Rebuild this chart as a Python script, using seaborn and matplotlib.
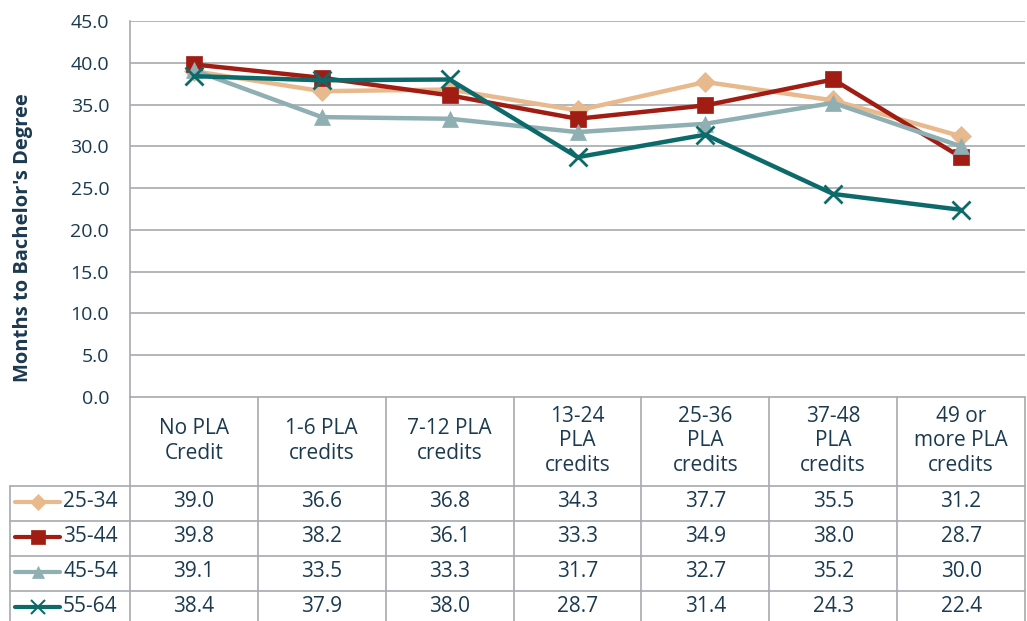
import numpy as np
import pandas as pd
import matplotlib
matplotlib.use("Agg")
import matplotlib.pyplot as plt
import seaborn as sns
from matplotlib.lines import Line2D

# ---------------- data ----------------
categories = ["No PLA\nCredit", "1-6 PLA\ncredits", "7-12 PLA\ncredits",
              "13-24\nPLA\ncredits", "25-36\nPLA\ncredits", "37-48\nPLA\ncredits",
              "49 or\nmore PLA\ncredits"]
ages = ["25-34", "35-44", "45-54", "55-64"]
v_25_34 = [39.0, 36.6, 36.8, 34.3, 37.7, 35.5, 31.2]
v_35_44 = [39.8, 38.2, 36.1, 33.3, 34.9, 38.0, 28.7]
v_45_54 = [39.1, 33.5, 33.3, 31.7, 32.7, 35.2, 30.0]
v_55_64 = [38.4, 37.9, 38.0, 28.7, 31.4, 24.3, 22.4]
yticks = [0, 5, 10, 15, 20, 25, 30, 35, 40, 45]

series = [v_25_34, v_35_44, v_45_54, v_55_64]
colors = ["#E8B98D", "#A11D14", "#8FAFB3", "#0D6A6A"]
markers = ["D", "s", "^", "x"]
msizes = [10, 12, 11, 13]

df = pd.DataFrame({
    "pos": np.tile(np.arange(len(categories)), len(ages)),
    "age": np.repeat(ages, len(categories)),
    "months": np.concatenate(series),
})

# ---------------- style ----------------
sns.set_style("white")
plt.rcParams["font.family"] = ["Open Sans", "DejaVu Sans"]
TXT = "#1B3A50"
GRID = "#A7AAAE"
FS = 15

W, H = 1027, 621
fig = plt.figure(figsize=(W / 100, H / 100), dpi=100)

# full-figure pixel axes for the data table
tab = fig.add_axes([0, 0, 1, 1], zorder=0)
tab.set_xlim(0, W)
tab.set_ylim(H, 0)
tab.axis("off")

x0, x1 = 130, 1025
y_top, y_bot = 21, 397
ax = fig.add_axes([x0 / W, 1 - y_bot / H, (x1 - x0) / W, (y_bot - y_top) / H], zorder=1)
ax.patch.set_alpha(0)

for age, col, mk, ms in zip(ages, colors, markers, msizes):
    sub = df[df["age"] == age]
    sns.lineplot(data=sub, x="pos", y="months", ax=ax, color=col, linewidth=3.2,
                 marker=mk, markersize=ms, markeredgecolor=col,
                 markeredgewidth=2 if mk == "x" else 0.5, legend=False)

ax.set_xlim(-0.5, len(categories) - 0.5)
ax.set_ylim(0, 45)
ax.set_yticks(yticks)
ax.set_yticklabels([f"{t:.1f}" for t in yticks], fontsize=14, color=TXT)
ax.set_xticks([])
ax.set_xlabel("")
ax.set_ylabel("")
for y in yticks[1:]:
    ax.axhline(y, color=GRID, linewidth=1.2, zorder=0)
for s in ["top", "right", "bottom"]:
    ax.spines[s].set_visible(False)
ax.spines["left"].set_color(GRID)
ax.spines["left"].set_linewidth(1.2)
ax.tick_params(axis="y", length=7, width=1.2, color=GRID, pad=8)

fig.text(23 / W, 1 - 238 / H, "Months to Bachelor's Degree", rotation=90,
         ha="center", va="center", fontsize=14.5, fontweight="bold", color=TXT)

# ---------------- data table ----------------
col_w = (x1 - x0) / len(categories)
edges = [x0 + i * col_w for i in range(len(categories) + 1)]
row_edges = [486, 521, 556, 591, 626]
lk = dict(color=GRID, linewidth=1.2)

tab.plot([x0, x1], [y_bot, y_bot], **lk)
for e in edges:
    tab.plot([e, e], [y_bot, H], **lk)
for r in row_edges[:-1]:
    tab.plot([10, x1], [r, r], **lk)
tab.plot([10, 10], [486, H], **lk)

for i, c in enumerate(categories):
    cx = (edges[i] + edges[i + 1]) / 2
    tab.text(cx, 441, c, ha="center", va="center", fontsize=FS, color=TXT,
             linespacing=1.2)

for j, (age, vals, col, mk, ms) in enumerate(zip(ages, series, colors, markers, msizes)):
    cy = (row_edges[j] + row_edges[j + 1]) / 2 - 2
    tab.add_line(Line2D([15, 60], [cy, cy], color=col, linewidth=3))
    tab.add_line(Line2D([37.5], [cy], color=col, marker=mk, markersize=ms * 0.8,
                        markeredgecolor=col, markeredgewidth=1.5 if mk == "x" else 0.5))
    tab.text(63, cy, age, ha="left", va="center", fontsize=FS, color=TXT)
    for i, v in enumerate(vals):
        cx = (edges[i] + edges[i + 1]) / 2
        tab.text(cx, cy, f"{v:.1f}", ha="center", va="center", fontsize=FS, color=TXT)

fig.savefig("out.png", dpi=100)
